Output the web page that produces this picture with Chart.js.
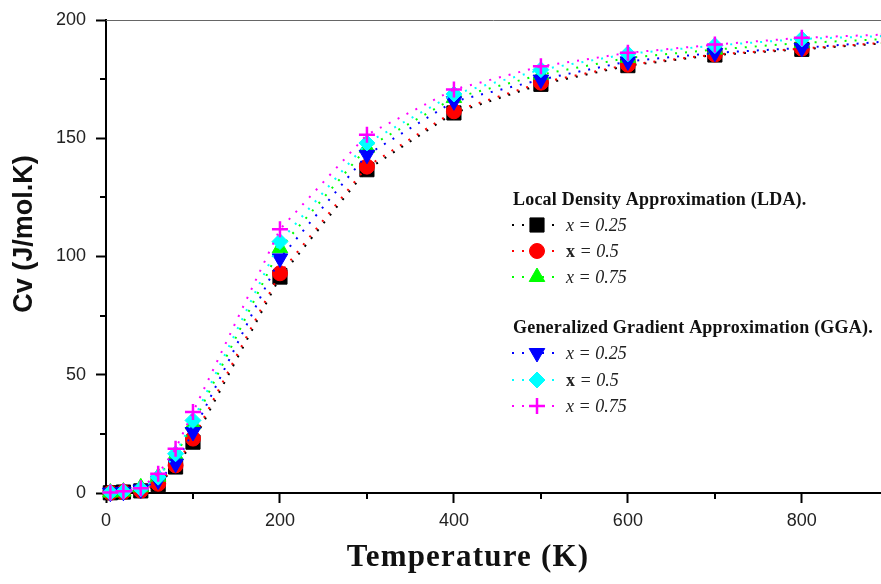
<!DOCTYPE html>
<html>
<head>
<meta charset="utf-8">
<title>Cv vs Temperature</title>
<script src="https://cdn.jsdelivr.net/npm/chart.js@4/dist/chart.umd.min.js"></script>
<style>
  html, body { margin: 0; padding: 0; background: #fff; }
  canvas { display: block; }
</style>
</head>
<body>
<canvas id="cv-chart" width="881" height="584"></canvas>
<script>
(function () {
  'use strict';

  // --- data: heat capacity Cv (J/mol.K) against temperature (K) ---
  var temps = [5, 20, 40, 60, 80, 100, 200, 300, 400, 500, 600, 700, 800, 900];

  var ldaX025 = [0.1, 0.4, 0.9, 3.5, 11.0, 21.5, 91.3, 136.7, 160.7, 172.8, 180.7, 185.2, 187.6, 190.3];
  var ldaX050 = [0.1, 0.4, 1.0, 3.9, 11.7, 23.0, 92.9, 138.0, 161.4, 173.5, 181.1, 185.4, 187.9, 190.5];
  var ldaX075 = [0.2, 0.6, 2.4, 6.9, 16.0, 29.0, 103.5, 146.0, 167.0, 176.9, 184.0, 187.5, 190.3, 192.0];
  var ggaX025 = [0.15, 0.5, 1.5, 5.3, 12.4, 25.8, 99.2, 143.0, 165.6, 174.8, 182.5, 186.1, 188.2, 191.0];
  var ggaX050 = [0.2, 0.6, 1.8, 6.7, 16.6, 30.7, 106.3, 148.0, 168.7, 179.0, 185.7, 189.2, 192.0, 193.3];
  var ggaX075 = [0.2, 0.7, 2.0, 8.1, 18.7, 34.2, 111.5, 151.5, 170.6, 180.4, 186.1, 189.6, 192.5, 193.9];

  var xTicksMajor = [0, 200, 400, 600, 800];
  var xTicksMinor = [100, 300, 500, 700];
  var yTicksMinor = [25, 75, 125, 175];

  var groupTitles = ['Local Density Approximation (LDA).', 'Generalized Gradient Approximation (GGA).'];
  var seriesLabels = ['x = 0.25', 'x = 0.5', 'x = 0.75', 'x = 0.25', 'x = 0.5', 'x = 0.75'];

  function pts(arr) {
    return temps.map(function (t, i) { return { x: t, y: arr[i] }; });
  }

  function series(label, arr, color, style, radius, rotation, order) {
    return {
      label: label,
      data: pts(arr),
      borderColor: color,
      backgroundColor: color,
      borderWidth: 2,
      borderDash: [2, 8],
      tension: 0,
      pointStyle: style,
      pointRadius: radius,
      pointRotation: rotation,
      pointBorderWidth: style === 'cross' ? 2.5 : 1,
      pointBorderColor: color,
      pointBackgroundColor: color,
      clip: false,
      order: order,
    };
  }

  var datasets = [
    series(seriesLabels[0], ldaX025, '#000000', 'rect', 10, 0, 6),
    series(seriesLabels[1], ldaX050, '#ff0000', 'circle', 7.5, 0, 5),
    series(seriesLabels[2], ldaX075, '#00ff00', 'triangle', 9, 0, 4),
    series(seriesLabels[3], ggaX025, '#0000ff', 'triangle', 9, 180, 3),
    series(seriesLabels[4], ggaX050, '#00ffff', 'rectRot', 8, 0, 2),
    series(seriesLabels[5], ggaX075, '#ff00ff', 'cross', 8, 0, 1),
  ];

  // minor ticks, top frame line, axis titles and the grouped legend
  var decorations = {
    id: 'decorations',
    afterDraw: function (chart) {
      var ctx = chart.ctx;
      var area = chart.chartArea;
      var xs = chart.scales.x, ys = chart.scales.y;

      ctx.save();
      ctx.strokeStyle = '#000';
      ctx.lineWidth = 2;
      ctx.beginPath();
      xTicksMinor.forEach(function (v) {
        var px = Math.round(xs.getPixelForValue(v));
        ctx.moveTo(px, area.bottom);
        ctx.lineTo(px, area.bottom + 6);
      });
      yTicksMinor.forEach(function (v) {
        var py = Math.round(ys.getPixelForValue(v));
        ctx.moveTo(area.left, py);
        ctx.lineTo(area.left - 6, py);
      });
      ctx.stroke();

      ctx.strokeStyle = '#666';
      ctx.lineWidth = 1;
      ctx.beginPath();
      ctx.moveTo(area.left, area.top + 0.5);
      ctx.lineTo(area.right, area.top + 0.5);
      ctx.stroke();

      // axis titles
      ctx.fillStyle = '#111';
      ctx.save();
      ctx.translate(25, 234);
      ctx.rotate(-Math.PI / 2);
      ctx.font = 'bold 27px "Liberation Sans", Arial, sans-serif';
      ctx.textAlign = 'center';
      ctx.textBaseline = 'middle';
      ctx.fillText('Cv (J/mol.K)', 0, 0);
      ctx.restore();

      ctx.font = 'bold 31px "Liberation Serif", "Times New Roman", serif';
      ctx.letterSpacing = '1.2px';
      ctx.textAlign = 'center';
      ctx.textBaseline = 'alphabetic';
      ctx.fillText('Temperature (K)', 468, 566);
      ctx.letterSpacing = '0px';

      // legend
      var headerY = [205, 333];
      var rowY = [225, 251, 277, 353, 380, 406];
      var lx = 513;
      ctx.textAlign = 'left';
      ctx.fillStyle = '#111';
      ctx.font = 'bold 18px "Liberation Serif", "Times New Roman", serif';
      ctx.letterSpacing = '0.2px';
      groupTitles.forEach(function (t, i) { ctx.fillText(t, lx, headerY[i]); });
      ctx.letterSpacing = '0px';

      chart.data.datasets.forEach(function (ds, i) {
        var y = rowY[i];
        ctx.save();
        ctx.strokeStyle = ds.borderColor;
        ctx.lineWidth = 2;
        ctx.setLineDash([2, 8]);
        ctx.beginPath();
        ctx.moveTo(lx - 1, y);
        ctx.lineTo(lx + 48, y);
        ctx.stroke();
        ctx.setLineDash([]);
        ctx.fillStyle = ds.backgroundColor;
        ctx.strokeStyle = ds.borderColor;
        ctx.lineWidth = ds.pointBorderWidth;
        Chart.helpers.drawPoint(ctx, {
          pointStyle: ds.pointStyle,
          rotation: ds.pointRotation,
          radius: ds.pointRadius,
          borderWidth: ds.pointBorderWidth,
        }, lx + 24, y);
        ctx.restore();

        var tx = lx + 53, ty = y + 6;
        var label = ds.label;
        ctx.fillStyle = '#222';
        if (label === 'x = 0.5') {
          // bold upright variable name on the x = 0.5 rows
          ctx.font = 'bold 18px "Liberation Serif", "Times New Roman", serif';
          ctx.fillText('x', tx, ty);
          tx += ctx.measureText('x').width;
          label = label.slice(1);
        }
        ctx.font = 'italic 18px "Liberation Serif", "Times New Roman", serif';
        ctx.fillText(label, tx, ty);
      });
      ctx.restore();
    },
  };

  var tickFont = { family: '"Liberation Sans", Arial, sans-serif', size: 18 };

  new Chart(document.getElementById('cv-chart').getContext('2d'), {
    type: 'line',
    data: { datasets: datasets },
    options: {
      responsive: false,
      animation: false,
      devicePixelRatio: 1,
      layout: { autoPadding: false, padding: { top: 20, right: 0, left: 0, bottom: 0 } },
      plugins: {
        legend: { display: false },
        tooltip: { enabled: false },
      },
      scales: {
        x: {
          type: 'linear',
          min: 0,
          max: 891,
          afterFit: function (scale) {
            scale.height = 91;
            scale.paddingLeft = 0;
            scale.paddingRight = 0;
          },
          afterBuildTicks: function (scale) {
            scale.ticks = xTicksMajor.map(function (v) { return { value: v }; });
          },
          ticks: { font: tickFont, color: '#222', padding: 7, maxRotation: 0 },
          grid: { drawOnChartArea: false, drawTicks: true, tickLength: 10, tickWidth: 2, tickColor: '#000' },
          border: { display: true, color: '#000', width: 2 },
        },
        y: {
          min: 0,
          max: 200,
          afterFit: function (scale) {
            scale.width = 106;
            scale.paddingTop = 0;
            scale.paddingBottom = 0;
          },
          ticks: { stepSize: 50, font: tickFont, color: '#222', padding: 10 },
          grid: { drawOnChartArea: false, drawTicks: true, tickLength: 10, tickWidth: 2, tickColor: '#000' },
          border: { display: true, color: '#000', width: 2 },
        },
      },
    },
    plugins: [decorations],
  });
})();
</script>
</body>
</html>
